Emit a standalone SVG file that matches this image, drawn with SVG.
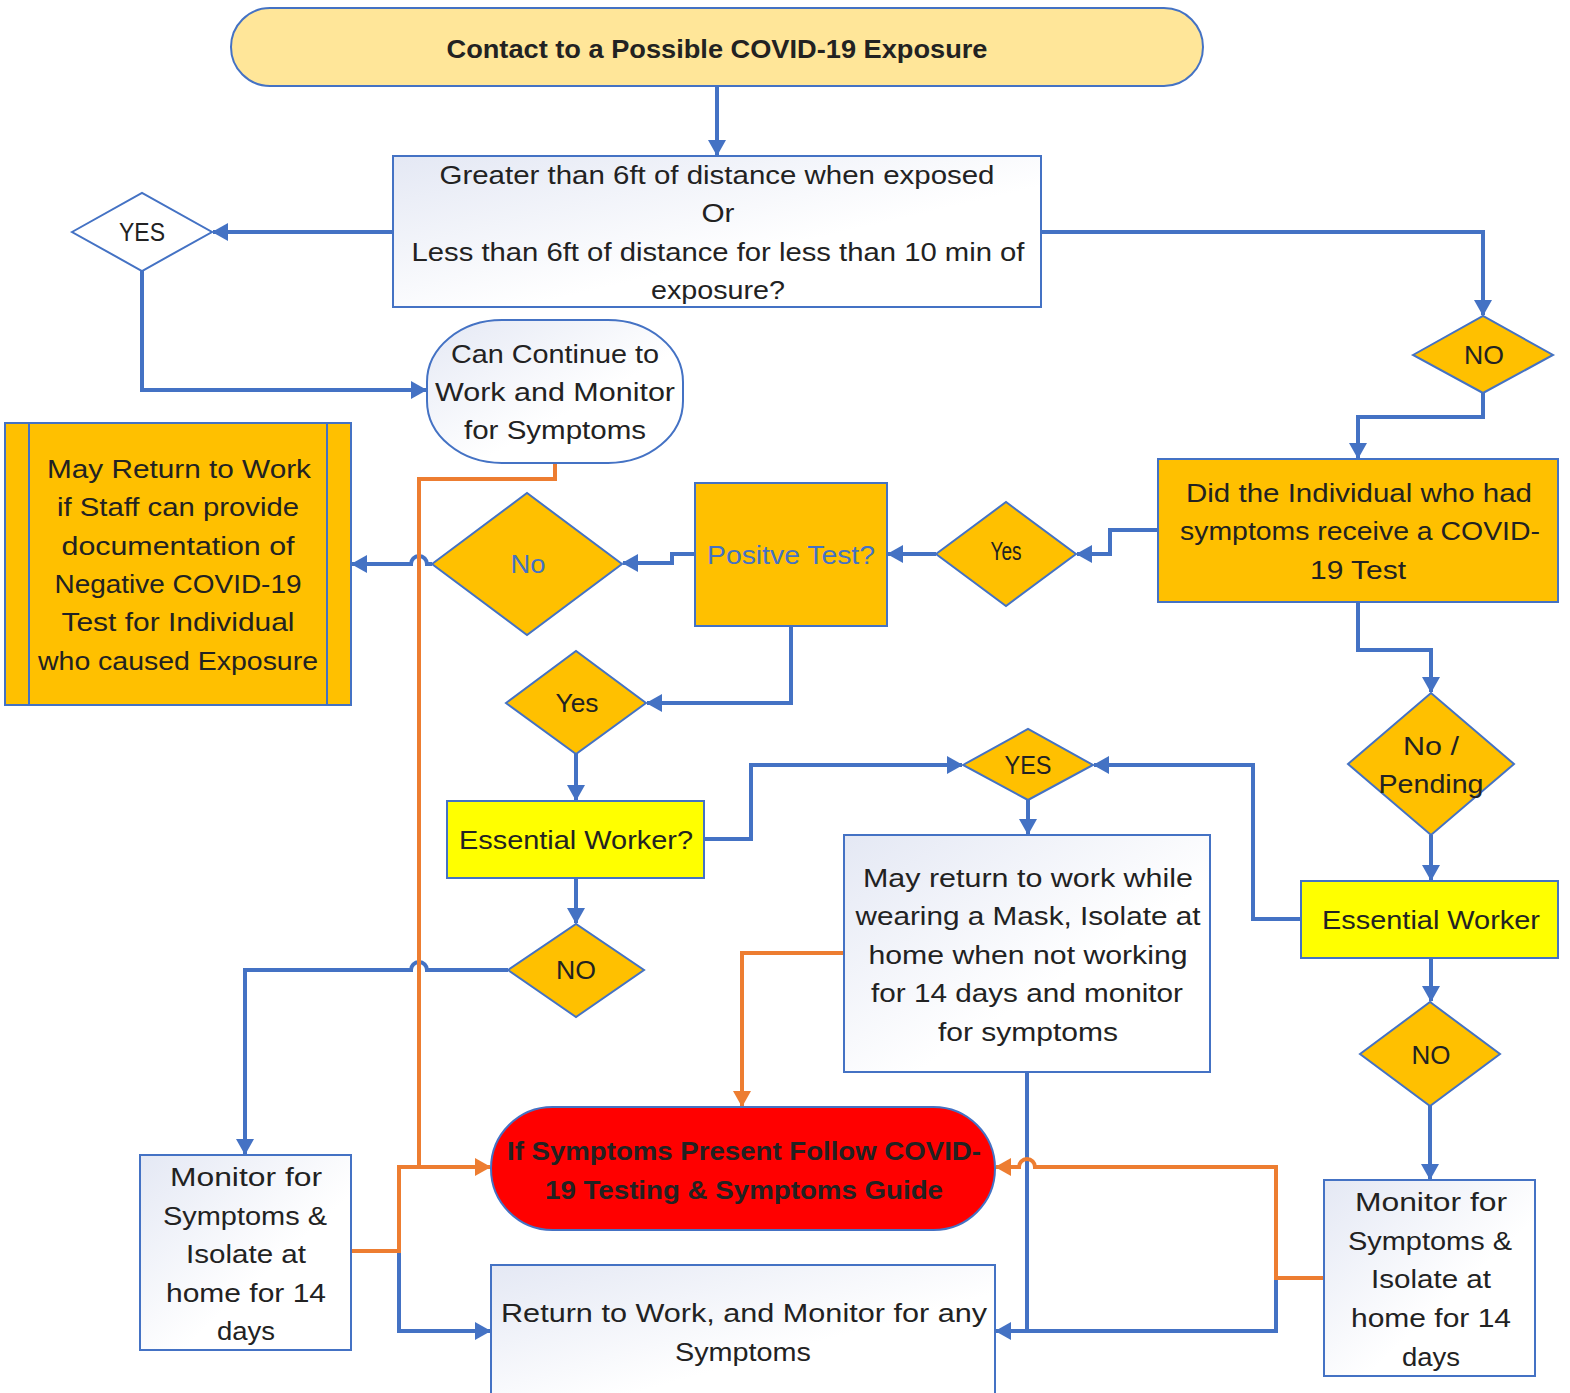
<svg xmlns="http://www.w3.org/2000/svg" width="1570" height="1393" viewBox="0 0 1570 1393">
<style>
.t{font-family:"Liberation Sans",Arial,sans-serif;font-size:25px;fill:#222;text-anchor:middle}
.b{font-weight:bold}
.sh{stroke:#4472C4;stroke-width:2}
.gold{fill:#FFC000}
.yel{fill:#FFFF00}
.wh{fill:url(#wg)}
.cb{fill:none;stroke:#4472C4;stroke-width:4}
.co{fill:none;stroke:#ED7D31;stroke-width:4}
</style>
<defs>
<linearGradient id="wg" x1="0" y1="0" x2="1" y2="1">
<stop offset="0" stop-color="#E4E8F4"/>
<stop offset="0.6" stop-color="#FFFFFF"/>
</linearGradient>
<marker id="ab" markerUnits="userSpaceOnUse" markerWidth="18" markerHeight="18" refX="15" refY="9" orient="auto"><path d="M0,0 L16,9 L0,18 Z" fill="#4472C4"/></marker>
<marker id="ao" markerUnits="userSpaceOnUse" markerWidth="18" markerHeight="18" refX="15" refY="9" orient="auto"><path d="M0,0 L16,9 L0,18 Z" fill="#ED7D31"/></marker>
</defs>
<rect width="1570" height="1393" fill="#fff"/>

<g id="connectors">
<path class="cb" d="M717,86 V155" marker-end="url(#ab)"/>
<path class="cb" d="M393,232 H213" marker-end="url(#ab)"/>
<path class="cb" d="M142,271 V390 H426" marker-end="url(#ab)"/>
<path class="cb" d="M1041,232 H1483 V315" marker-end="url(#ab)"/>
<path class="cb" d="M1483,393 V417 H1358 V458" marker-end="url(#ab)"/>
<path class="cb" d="M1158,530 H1110 V554 H1077" marker-end="url(#ab)"/>
<path class="cb" d="M936,554 H888" marker-end="url(#ab)"/>
<path class="cb" d="M695,554 H672 V563 H623" marker-end="url(#ab)"/>
<path class="cb" d="M432,564 H427 A8,8 0 0 0 411,564 H352" marker-end="url(#ab)"/>
<path class="cb" d="M791,626 V703 H647" marker-end="url(#ab)"/>
<path class="cb" d="M576,754 V800" marker-end="url(#ab)"/>
<path class="cb" d="M704,839 H751 V765 H962" marker-end="url(#ab)"/>
<path class="cb" d="M1301,919 H1253 V765 H1094" marker-end="url(#ab)"/>
<path class="cb" d="M1028,800 V834" marker-end="url(#ab)"/>
<path class="cb" d="M1358,602 V650 H1431 V692" marker-end="url(#ab)"/>
<path class="cb" d="M1431,835 V880" marker-end="url(#ab)"/>
<path class="cb" d="M1431,958 V1001" marker-end="url(#ab)"/>
<path class="cb" d="M1430,1106 V1179" marker-end="url(#ab)"/>
<path class="cb" d="M576,878 V923" marker-end="url(#ab)"/>
<path class="cb" d="M508,970 H427 A8,8 0 0 0 411,970 H245 V1154" marker-end="url(#ab)"/>
<path class="cb" d="M399,1251 V1331 H490" marker-end="url(#ab)"/>
<path class="cb" d="M1027,1072 V1331"/>
<path class="cb" d="M1276,1278 V1331 H996" marker-end="url(#ab)"/>
<path class="co" d="M555,463 V479 H419 V1167 H490" marker-end="url(#ao)"/>
<path class="co" d="M351,1251 H399 V1167 H421"/>
<path class="co" d="M844,953 H742 V1106" marker-end="url(#ao)"/>
<path class="co" d="M1324,1278 H1276 V1167 H1035 A8,8 0 0 0 1019,1167 H996" marker-end="url(#ao)"/>
</g>

<g id="start">
<rect class="sh" x="231" y="8" width="972" height="78" rx="39" fill="#FFE699"/>
<text class="t b" x="717" y="58" font-size="26" textLength="541" lengthAdjust="spacingAndGlyphs">Contact to a Possible COVID-19 Exposure</text>
</g>

<g id="distance-question">
<rect class="sh wh" x="393" y="156" width="648" height="151"/>
<text class="t" x="717" y="184" textLength="555" lengthAdjust="spacingAndGlyphs">Greater than 6ft of distance when exposed</text>
<text class="t" x="718" y="222" textLength="33" lengthAdjust="spacingAndGlyphs">Or</text>
<text class="t" x="718" y="261" textLength="613" lengthAdjust="spacingAndGlyphs">Less than 6ft of distance for less than 10 min of</text>
<text class="t" x="718" y="299" textLength="134" lengthAdjust="spacingAndGlyphs">exposure?</text>
</g>

<g id="yes-1">
<polygon class="sh" points="72,232 142,193 212,232 142,271" fill="#fff"/>
<text class="t" x="142" y="241" textLength="46" lengthAdjust="spacingAndGlyphs">YES</text>
</g>

<g id="continue-work">
<rect class="sh wh" x="427" y="320" width="256" height="143" rx="75" ry="62"/>
<text class="t" x="555" y="363" textLength="208" lengthAdjust="spacingAndGlyphs">Can Continue to</text>
<text class="t" x="555" y="401" textLength="240" lengthAdjust="spacingAndGlyphs">Work and Monitor</text>
<text class="t" x="555" y="439" textLength="182" lengthAdjust="spacingAndGlyphs">for Symptoms</text>
</g>

<g id="no-1">
<polygon class="sh gold" points="1413,355 1483,316 1553,355 1483,393"/>
<text class="t" x="1484" y="364" textLength="40" lengthAdjust="spacingAndGlyphs">NO</text>
</g>

<g id="did-test">
<rect class="sh gold" x="1158" y="459" width="400" height="143"/>
<text class="t" x="1359" y="502" textLength="346" lengthAdjust="spacingAndGlyphs">Did the Individual who had</text>
<text class="t" x="1360" y="540" textLength="360" lengthAdjust="spacingAndGlyphs">symptoms receive a COVID-</text>
<text class="t" x="1358" y="579" textLength="96" lengthAdjust="spacingAndGlyphs">19 Test</text>
</g>

<g id="yes-small">
<polygon class="sh gold" points="936,554 1006,502 1076,554 1006,606"/>
<text class="t" x="1006" y="560" font-size="17" textLength="31" lengthAdjust="spacingAndGlyphs">Yes</text>
</g>

<g id="positive-test">
<rect class="sh gold" x="695" y="483" width="192" height="143"/>
<text class="t" x="791" y="564" font-size="26" style="fill:#4472C4" textLength="168" lengthAdjust="spacingAndGlyphs">Positve Test?</text>
</g>

<g id="no-2">
<polygon class="sh gold" points="432,564 527,493 622,564 527,635"/>
<text class="t" x="528" y="573" style="fill:#4472C4" textLength="35" lengthAdjust="spacingAndGlyphs">No</text>
</g>

<g id="may-return">
<rect class="sh gold" x="5" y="423" width="346" height="282"/>
<line class="sh" x1="29" y1="423" x2="29" y2="705"/>
<line class="sh" x1="327" y1="423" x2="327" y2="705"/>
<text class="t" x="179" y="478" textLength="264" lengthAdjust="spacingAndGlyphs">May Return to Work</text>
<text class="t" x="178" y="516" textLength="242" lengthAdjust="spacingAndGlyphs">if Staff can provide</text>
<text class="t" x="178" y="555" textLength="233" lengthAdjust="spacingAndGlyphs">documentation of</text>
<text class="t" x="178" y="593" textLength="247" lengthAdjust="spacingAndGlyphs">Negative COVID-19</text>
<text class="t" x="178" y="631" textLength="233" lengthAdjust="spacingAndGlyphs">Test for Individual</text>
<text class="t" x="178" y="670" textLength="280" lengthAdjust="spacingAndGlyphs">who caused Exposure</text>
</g>

<g id="yes-2">
<polygon class="sh gold" points="506,703 576,651 646,703 576,754"/>
<text class="t" x="577" y="712" textLength="43" lengthAdjust="spacingAndGlyphs">Yes</text>
</g>

<g id="essential-q">
<rect class="sh yel" x="447" y="801" width="257" height="77"/>
<text class="t" x="576" y="849" textLength="234" lengthAdjust="spacingAndGlyphs">Essential Worker?</text>
</g>

<g id="yes-3">
<polygon class="sh gold" points="963,765 1028,729 1093,765 1028,800"/>
<text class="t" x="1028" y="774" textLength="47" lengthAdjust="spacingAndGlyphs">YES</text>
</g>

<g id="no-pending">
<polygon class="sh gold" points="1348,764 1431,693 1514,764 1431,835"/>
<text class="t" x="1431" y="755" textLength="56" lengthAdjust="spacingAndGlyphs">No /</text>
<text class="t" x="1431" y="793" textLength="105" lengthAdjust="spacingAndGlyphs">Pending</text>
</g>

<g id="essential-worker">
<rect class="sh yel" x="1301" y="881" width="257" height="77"/>
<text class="t" x="1431" y="929" textLength="218" lengthAdjust="spacingAndGlyphs">Essential Worker</text>
</g>

<g id="mask-return">
<rect class="sh wh" x="844" y="835" width="366" height="237"/>
<text class="t" x="1028" y="887" textLength="330" lengthAdjust="spacingAndGlyphs">May return to work while</text>
<text class="t" x="1028" y="925" textLength="345" lengthAdjust="spacingAndGlyphs">wearing a Mask,  Isolate at</text>
<text class="t" x="1028" y="964" textLength="319" lengthAdjust="spacingAndGlyphs">home when not working</text>
<text class="t" x="1027" y="1002" textLength="312" lengthAdjust="spacingAndGlyphs">for 14 days and monitor</text>
<text class="t" x="1028" y="1041" textLength="180" lengthAdjust="spacingAndGlyphs">for symptoms</text>
</g>

<g id="no-3">
<polygon class="sh gold" points="508,970 576,924 644,970 576,1017"/>
<text class="t" x="576" y="979" textLength="40" lengthAdjust="spacingAndGlyphs">NO</text>
</g>

<g id="no-4">
<polygon class="sh gold" points="1360,1054 1430,1002 1500,1054 1430,1106"/>
<text class="t" x="1431" y="1064" textLength="39" lengthAdjust="spacingAndGlyphs">NO</text>
</g>

<g id="monitor-left">
<rect class="sh wh" x="140" y="1155" width="211" height="195"/>
<text class="t" x="246" y="1186" textLength="152" lengthAdjust="spacingAndGlyphs">Monitor for</text>
<text class="t" x="245" y="1225" textLength="164" lengthAdjust="spacingAndGlyphs">Symptoms &amp;</text>
<text class="t" x="246" y="1263" textLength="120" lengthAdjust="spacingAndGlyphs">Isolate at</text>
<text class="t" x="246" y="1302" textLength="160" lengthAdjust="spacingAndGlyphs">home for 14</text>
<text class="t" x="246" y="1340" textLength="58" lengthAdjust="spacingAndGlyphs">days</text>
</g>

<g id="monitor-right">
<rect class="sh wh" x="1324" y="1180" width="211" height="196"/>
<text class="t" x="1431" y="1211" textLength="152" lengthAdjust="spacingAndGlyphs">Monitor for</text>
<text class="t" x="1430" y="1250" textLength="164" lengthAdjust="spacingAndGlyphs">Symptoms &amp;</text>
<text class="t" x="1431" y="1288" textLength="120" lengthAdjust="spacingAndGlyphs">Isolate at</text>
<text class="t" x="1431" y="1327" textLength="160" lengthAdjust="spacingAndGlyphs">home for 14</text>
<text class="t" x="1431" y="1366" textLength="58" lengthAdjust="spacingAndGlyphs">days</text>
</g>

<g id="symptoms-guide">
<rect class="sh" x="491" y="1107" width="504" height="123" rx="61.5" fill="#FF0000"/>
<text class="t b" x="744" y="1160" font-size="26" textLength="474" lengthAdjust="spacingAndGlyphs">If Symptoms Present Follow COVID-</text>
<text class="t b" x="744" y="1199" font-size="26" textLength="398" lengthAdjust="spacingAndGlyphs">19 Testing &amp; Symptoms Guide</text>
</g>

<g id="return-work">
<rect class="sh wh" x="491" y="1265" width="504" height="140"/>
<text class="t" x="744" y="1322" textLength="486" lengthAdjust="spacingAndGlyphs">Return to Work, and  Monitor for any</text>
<text class="t" x="743" y="1361" textLength="136" lengthAdjust="spacingAndGlyphs">Symptoms</text>
</g>
</svg>
